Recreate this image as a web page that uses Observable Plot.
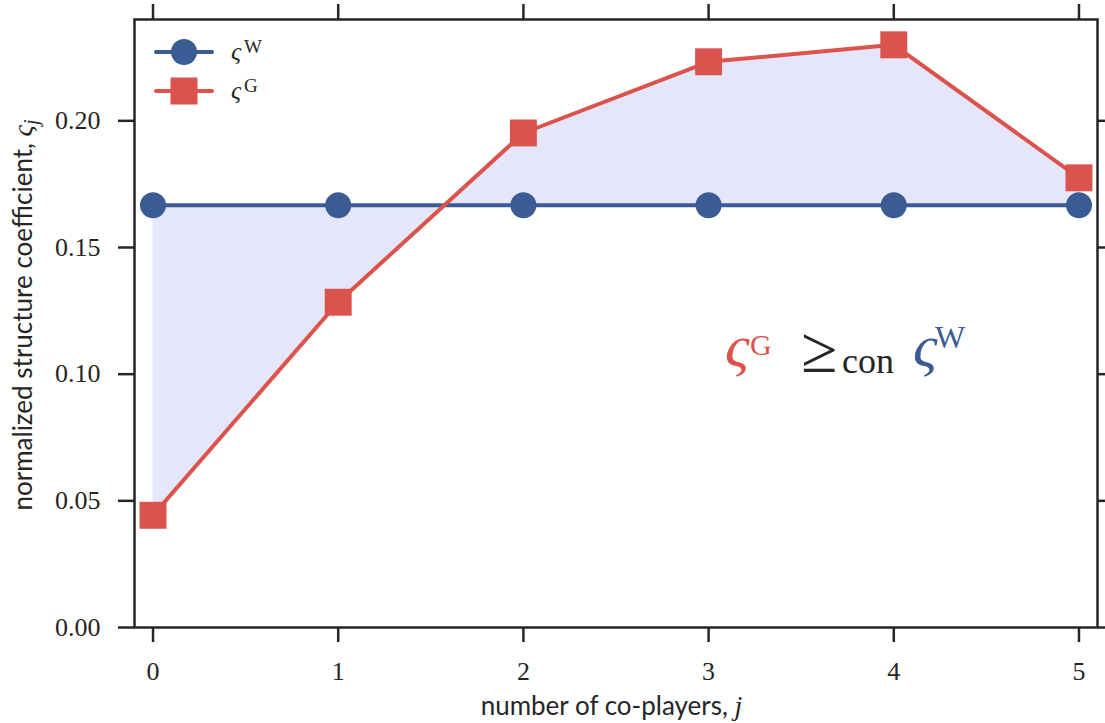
<!DOCTYPE html>
<html>
<head>
<meta charset="utf-8">
<script src="https://cdn.jsdelivr.net/npm/d3@7"></script>
<script src="https://cdn.jsdelivr.net/npm/@observablehq/plot@0.6"></script>
<style>
  html, body { margin: 0; padding: 0; background: #fff; }
  #chart svg { display: block; }
</style>
</head>
<body>
<div id="chart"></div>
<script>
// ---- data ----
const coPlayers = [0, 1, 2, 3, 4, 5];
const sigmaW = [0.1667, 0.1667, 0.1667, 0.1667, 0.1667, 0.1667];
const sigmaG = [0.0443, 0.1284, 0.1952, 0.2233, 0.2300, 0.1775];
const xTicks = [0, 1, 2, 3, 4, 5];
const yTicks = [0.00, 0.05, 0.10, 0.15, 0.20];
const seriesNames = ["W", "G"];

const blue = "#3b5b94";
const red = "#da534d";
const lavender = "#e6e6fa";
const ink = "#262626";

const data = coPlayers.map((j, i) => ({ j, w: sigmaW[i], g: sigmaG[i] }));

const plot = Plot.plot({
  width: 1105,
  height: 723,
  marginLeft: 134,
  marginRight: 8,
  marginTop: 19,
  marginBottom: 96,
  x: { domain: [-0.1, 5.1] },
  y: { domain: [0, 0.24] },
  style: { fontFamily: "'Liberation Serif', serif", fontSize: "26px", color: ink, background: "#fff", overflow: "visible" },
  marks: [
    Plot.areaY(data, { x: "j", y1: "w", y2: "g", fill: lavender }),
    Plot.line(data, { x: "j", y: "w", stroke: blue, strokeWidth: 4 }),
    Plot.line(data, { x: "j", y: "g", stroke: red, strokeWidth: 4 }),
    Plot.dot(data, { x: "j", y: "w", r: 13, fill: blue, symbol: "circle" }),
    Plot.dot(data, { x: "j", y: "g", r: 15.2, fill: red, symbol: "square" }),
    Plot.axisX({ ticks: xTicks, tickSize: 15, tickPadding: 19, tickFormat: d => String(d), label: null, stroke: ink, strokeWidth: 2.5, fontSize: 26 }),
    Plot.axisX({ anchor: "top", ticks: xTicks, tickSize: 16, tickFormat: () => "", label: null, stroke: ink, strokeWidth: 2.5 }),
    Plot.axisY({ ticks: yTicks, tickSize: 16, tickPadding: 18, tickFormat: d3.format(".2f"), label: null, stroke: ink, strokeWidth: 2.5, fontSize: 26 }),
    Plot.axisY({ anchor: "right", ticks: yTicks, tickSize: 16, tickFormat: () => "", label: null, stroke: ink, strokeWidth: 2.5 }),
    Plot.frame({ stroke: ink, strokeWidth: 2.5 })
  ]
});

document.getElementById("chart").appendChild(plot);

const svg = d3.select(plot);
const sx = plot.scale("x"), sy = plot.scale("y");
const sans = "Lato, 'Open Sans', sans-serif";
const serif = "'Liberation Serif', serif";

function txt(x, y, s, size, color, opts = {}) {
  const t = svg.append("text")
    .attr("x", x).attr("y", y)
    .attr("text-anchor", opts.anchor || "start")
    .attr("fill", color)
    .style("font-family", opts.family || serif)
    .style("font-size", size + "px")
    .text(s);
  if (opts.italic) t.style("font-style", "italic");
  return t;
}

// x axis label
const xl = svg.append("text")
  .attr("x", (sx.apply(-0.1) + sx.apply(5.1)) / 2 - 4)
  .attr("y", 715)
  .attr("text-anchor", "middle")
  .attr("fill", ink)
  .style("font-family", sans).style("font-size", "26px");
xl.append("tspan").text("number of co-players, ");
xl.append("tspan").style("font-family", serif).style("font-style", "italic").style("font-size", "28px").text("j");

// y axis label
const yl = svg.append("text")
  .attr("transform", `translate(32,${(sy.apply(0) + sy.apply(0.24)) / 2 - 8}) rotate(-90)`)
  .attr("text-anchor", "middle")
  .attr("fill", ink)
  .style("font-family", sans).style("font-size", "26px");
yl.append("tspan").text("normalized structure coefficient, ");
yl.append("tspan").style("font-family", serif).style("font-style", "italic").style("font-size", "28px").text("ς");
yl.append("tspan").style("font-family", serif).style("font-style", "italic").style("font-size", "20px").attr("dy", 6).text("j");

// legend
const legendItems = [
  { name: seriesNames[0], color: blue, symbol: "circle", y: 52 },
  { name: seriesNames[1], color: red, symbol: "square", y: 91 }
];
for (const it of legendItems) {
  svg.append("line").attr("x1", 156).attr("x2", 212).attr("y1", it.y).attr("y2", it.y)
    .attr("stroke", it.color).attr("stroke-width", 4).attr("stroke-linecap", "round");
  if (it.symbol === "circle") {
    svg.append("circle").attr("cx", 184).attr("cy", it.y).attr("r", 13).attr("fill", it.color);
  } else {
    svg.append("rect").attr("x", 184 - 13.5).attr("y", it.y - 13.5).attr("width", 27).attr("height", 27).attr("fill", it.color);
  }
  txt(231, it.y + 8, "ς", 25, ink, { italic: true });
  txt(244, it.y + 1, it.name, 19, ink);
}

// annotation
txt(725, 366, "ς", 60, red, { italic: true });
txt(750, 355, "G", 30, red);
txt(801, 372, "≥", 66, ink);
txt(842, 373, "con", 36, ink);
txt(913, 366, "ς", 60, blue, { italic: true });
txt(935, 348, "W", 32, blue);
</script>
</body>
</html>
